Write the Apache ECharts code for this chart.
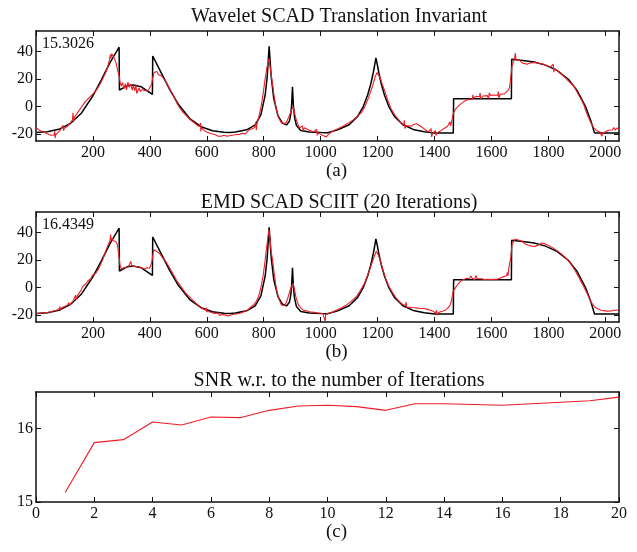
<!DOCTYPE html>
<html>
<head>
<meta charset="utf-8">
<script src="https://cdn.jsdelivr.net/npm/echarts@6/dist/echarts.min.js"></script>
<style>
html, body { margin: 0; padding: 0; background: #fff; }
#main { width: 637px; height: 552px; }
</style>
</head>
<body>
<div id="main"></div>
<script>
// original piece-regular signal (black), sample index / value
var sigX = [1, 40, 80, 120, 160, 200, 230, 260, 292, 293, 320, 341, 370, 409, 410, 440, 470, 500, 540, 580, 620, 660, 682,
    700, 740, 770, 790, 805, 812, 819, 826, 835, 850, 865, 880, 890, 895, 898, 901, 904, 908, 915, 930, 960, 1000, 1024,
    1060, 1100, 1130, 1150, 1165, 1175, 1180, 1185, 1190, 1194, 1199, 1204, 1209, 1214, 1224, 1239, 1259, 1289, 1329, 1364,
    1400, 1466, 1467, 1670, 1671, 1710, 1750, 1790, 1830, 1870, 1900, 1930, 1950, 1962, 2048];
var sigY = [-18.9, -18.3, -16.5, -12.4, -4.6, 7.9, 19.7, 32.0, 43.2, 12.1, 15.1, 15.8, 14.4, 8.9, 36.8, 24.6, 12.4, 1.7, -8.7, -14.6, -17.5, -18.7, -18.9,
    -18.4, -16.9, -13.2, -6.0, 8.3, 21.3, 43.8, 22.4, 6.1, -6.6, -11.9, -13.3, -10.7, -5.5, 1.4, 14.4, 1.4, -7.5, -13.8, -17.3, -18.5, -18.9, -19.0,
    -16.9, -13.2, -7.1, 0.2, 8.4, 15.7, 20.1, 25.0, 30.5, 35.4, 30.5, 25.0, 20.1, 15.7, 8.4, 0.2, -7.1, -13.2, -16.9, -18.2,
    -19.2, -19.2, 5.8, 5.8, 34.4, 33.6, 32.4, 30.2, 26.4, 19.9, 12.0, 0.2, -10.9, -19.2, -19.2];

// wavelet SCAD translation invariant estimate (red, panel a)
var waveTI = [[1,-15.4],[8,-16.5],[17,-17.8],[25,-18.5],[32,-19.6],[40,-19.8],[46,-20.2],[52,-20.8],[58,-21.3],[63,-20.6],[66,-18],[67,-23],[69,-20.5],
    [75,-19.5],[80,-18.2],[87,-16.6],[93,-16.9],[95,-13.5],[97,-17.5],[100,-15.5],[106,-14.8],[111,-14.2],[118,-12.5],[124,-11.8],[128,-9.5],[130,-4.5],
    [132,-11],[136,-7.3],[142,-5.6],[150,-3.3],[158,-0.8],[166,1.5],[174,3.8],[181,5.3],[190,7.2],[200,9.3],[210,11.4],[220,14.6],[228,17.5],[236,21],
    [245,24.8],[252,29],[258,34],[261,37.8],[263,35],[266,38.5],[269,37.4],[274,35.5],[281,32],[286,27],[292,22.3],[296,17],[300,15],[304,17.5],
    [309,13],[314,16.8],[318,12.2],[323,17.8],[328,14],[333,16.5],[338,12],[342,15.5],[347,11.5],[351,16],[354,9.5],[357,10.2],[362,13.5],[367,11],
    [372,12.5],[380,11.8],[386,12.4],[392,11.4],[398,13.2],[402,13.8],[406,16.3],[410,21],[415,24.8],[420,23.5],[425,25.5],[430,23.2],[433,23.6],
    [440,22.5],[450,19.9],[458,17.5],[466,14.5],[474,11.4],[482,8.5],[490,4.8],[497,1.7],[505,-0.8],[515,-3.8],[527,-6.4],[540,-9.2],[556,-11.7],
    [566,-13.5],[575,-14.6],[578,-12],[579,-18],[581,-15.4],[590,-17.3],[600,-18.4],[614,-19.5],[630,-20.5],[640,-21.6],[650,-21.5],[660,-20.8],
    [670,-21.5],[685,-21],[700,-20.5],[715,-20.2],[725,-19.4],[735,-19.8],[750,-16.6],[760,-16.2],[768,-15.2],[772,-11],[774,-17],[776,-13],[782,-8],
    [791,0.4],[797,8],[803,17.5],[810,27],[818,35],[823,28],[830,17.5],[837,7],[844,-2],[852,-8],[862,-11.7],[870,-12.3],[879,-11.7],[887,-8],
    [894,-4.4],[903,0],[908,-4.5],[914,-9.3],[920,-13],[926,-15.4],[932,-16],[936,-14],[938,-17.5],[943,-15.4],[950,-16.5],[958,-17],[967,-17.8],
    [975,-18.3],[982,-19.3],[986,-16.5],[988,-21],[990,-19],[998,-20],[1008,-21],[1014,-21.6],[1020,-22],[1026,-20.5],[1034,-19],[1043,-17.8],
    [1060,-16],[1078,-14.2],[1095,-12.2],[1113,-9.8],[1128,-7.3],[1143,-4.4],[1155,0],[1166,5.3],[1175,10.5],[1184,16.3],[1191,21.5],[1198,24.8],
    [1203,24],[1209,21.1],[1216,16.5],[1225,11.4],[1236,4.5],[1248,-2],[1260,-6],[1271,-8.8],[1283,-12],[1292,-13],[1294,-10],[1296,-16],[1300,-14],
    [1310,-14],[1318,-14.2],[1326,-13],[1336,-12.5],[1346,-13.5],[1359,-15.4],[1368,-17],[1378,-18.3],[1385,-19],[1388,-16],[1390,-22],[1393,-19.5],
    [1400,-20],[1403,-17.5],[1405,-21],[1409,-19],[1420,-17.8],[1432,-16.1],[1445,-14.5],[1452,-13.5],[1454,-11],[1456,-14],[1460,-11],[1465,-5.6],
    [1473,-2],[1482,0],[1490,1.6],[1502,3.5],[1514,4.8],[1525,5.6],[1533,5.2],[1535,8.5],[1537,6.5],[1548,7.5],[1558,7.2],[1560,10],[1562,5.5],
    [1570,7.7],[1585,8],[1590,6],[1592,10],[1596,8.2],[1610,8.5],[1622,8.3],[1624,11],[1626,6],[1631,9],[1645,9.3],[1652,10.5],[1657,11.4],[1662,13],
    [1666,17.5],[1672,29.6],[1678,33],[1682,36],[1684,39],[1686,34.5],[1692,35],[1701,33.3],[1710,31.5],[1715,32.5],[1725,30.9],[1735,31.8],
    [1748,32.1],[1760,31.8],[1772,31.2],[1783,30.9],[1795,29.8],[1808,28.8],[1815,28],[1817,31],[1819,25],[1822,27.7],[1835,25.5],[1853,22.3],
    [1870,18.8],[1889,15],[1905,9],[1918,4.1],[1925,1],[1928,-1],[1933,-4],[1941,-8.1],[1950,-12],[1959,-15.4],[1970,-17.5],[1980,-18.5],[1986,-18],
    [1988,-21.5],[1990,-19],[2000,-18.5],[2010,-17.2],[2017,-16.6],[2025,-17],[2030,-15.2],[2035,-17.2],[2041,-15.4],[2046,-16.5],[2048,-15.8]];

// EMD SCAD SCIIT estimate after 20 iterations (red, panel b)
var emdSciit = [[1,-18.8],[15,-18.6],[30,-18.3],[45,-17.9],[52,-17.6],[62,-17],[72,-16.5],[80,-15.8],[84,-13.8],[86,-16.5],[90,-14.7],[100,-13.8],
    [110,-12.8],[115,-11],[118,-13],[122,-11.5],[130,-9.8],[136,-8.8],[139,-5.5],[141,-9],[145,-6],[152,-3.8],[158,-2],[164,0.7],[170,1.8],[176,3],
    [182,4.8],[187,5.6],[193,6.5],[198,9],[204,8.7],[210,10.5],[218,13],[226,16.5],[234,20.2],[242,24.8],[251,30],[256,32.5],[260,34],[262,38.6],
    [264,34.5],[267,36],[270,34.2],[275,34.9],[280,33.5],[286,31.2],[290,25],[295,16.6],[300,13.5],[304,12.9],[310,14.6],[316,15.4],[322,14.8],
    [327,16.5],[333,19],[337,15.6],[342,16.8],[351,15.4],[358,16],[365,14.8],[374,14.1],[382,13.6],[390,14.5],[398,14.1],[403,16],[407,19],[411,24.5],
    [415,27.6],[422,26.8],[433,25.1],[445,21.6],[456,19],[468,14.8],[480,10.5],[494,5.2],[509,0.7],[525,-3.8],[544,-7.8],[565,-12],[585,-15.2],
    [595,-16.5],[598,-14.5],[600,-17.5],[610,-17.6],[626,-18.8],[640,-18.5],[645,-20.2],[655,-19.6],[667,-20],[675,-20.6],[682,-19.6],[690,-19.6],
    [702,-19.2],[715,-18.8],[730,-17.5],[745,-16],[756,-13.9],[765,-12.5],[772,-10.5],[779,-8],[785,-4.2],[792,2],[798,9],[803,16.6],[810,29],
    [818,42.2],[822,36],[826,26],[830,21.5],[837,10],[844,-0.5],[852,-7.5],[862,-12.7],[867,-13.8],[873,-13.2],[880,-10.5],[886,-6.5],[891,-3],
    [897,0.8],[903,3.2],[908,-1.5],[914,-7.8],[922,-12.5],[932,-15.2],[940,-16.5],[950,-16.8],[961,-17.6],[975,-18],[990,-18.5],[1008,-18.8],
    [1014,-19.5],[1016,-24.8],[1018,-19.4],[1025,-19.6],[1040,-17.9],[1055,-16.4],[1072,-14.8],[1090,-12.7],[1108,-9.8],[1125,-6.6],[1140,-2],
    [1154,3.2],[1166,9.5],[1178,16.6],[1187,22],[1195,26.4],[1202,24],[1209,20.2],[1220,12],[1230,5.6],[1242,0],[1254,-4.2],[1265,-7.5],[1277,-10.3],
    [1290,-12.5],[1298,-12.8],[1300,-10.5],[1302,-14.2],[1315,-14.3],[1325,-14.5],[1336,-14.7],[1350,-15.2],[1365,-15.2],[1375,-15.8],[1385,-16.4],
    [1395,-17.2],[1403,-18.5],[1407,-16.5],[1409,-20.2],[1412,-18.5],[1420,-17.6],[1430,-17],[1438,-16.4],[1448,-14.5],[1455,-12.7],[1460,-9],
    [1465,-2.9],[1470,-1.5],[1476,0.7],[1483,2.8],[1490,4.4],[1500,5.8],[1514,6.8],[1522,6.4],[1528,8.5],[1532,6.8],[1537,8],[1541,5.8],[1545,8.8],
    [1550,6.5],[1555,6.3],[1565,6.5],[1575,5.9],[1584,6.1],[1600,5.8],[1610,6],[1619,6.1],[1630,6.8],[1643,8],[1652,8.5],[1656,11],[1658,8.5],
    [1660,12.9],[1664,13.5],[1668,22],[1672,31.2],[1678,33.5],[1683,35.3],[1690,35.6],[1697,34.5],[1707,33.7],[1718,31.8],[1731,30.8],[1742,30.2],
    [1754,30],[1765,31],[1777,32.5],[1785,32],[1796,31.2],[1807,30],[1825,27.6],[1842,25.1],[1860,21.8],[1877,17.8],[1892,13],[1906,8],[1921,2],
    [1936,-4.2],[1945,-8.5],[1953,-11.5],[1962,-14],[1971,-15.2],[1985,-16.4],[2006,-17.1],[2020,-17],[2030,-16.5],[2041,-16.4],[2048,-15.8]];

// SNR vs number of iterations (panel c)
var iterations = [1, 2, 3, 4, 5, 6, 7, 8, 9, 10, 11, 12, 13, 14, 15, 16, 17, 18, 19, 20];
var snr = [15.13, 15.81, 15.85, 16.09, 16.05, 16.16, 16.15, 16.25, 16.31, 16.32, 16.30, 16.25, 16.34, 16.34, 16.33, 16.32, 16.34, 16.36, 16.38, 16.43];

var panelTitles = ['Wavelet SCAD Translation Invariant', 'EMD SCAD SCIIT (20 Iterations)', 'SNR w.r. to the number of Iterations'];
var panelNames = ['(a)', '(b)', '(c)'];
var snrLabels = ['15.3026', '16.4349'];
var sigTicks = [-20, 0, 20, 40];
var snrTicks = [15, 16];

var myChart = echarts.init(document.getElementById('main'));

var font = 'Liberation Serif';
var gridTops = [31, 212, 392];
var titleTops = [2, 188, 366];

var signalData = sigX.map(function (x, i) { return [x, sigY[i]]; });
var snrData = iterations.map(function (x, i) { return [x, snr[i]]; });

var axisLine = { show: true, onZero: false, lineStyle: { color: '#111', width: 1.5 } };
var axisTick = { show: true, inside: true, length: 5, lineStyle: { color: '#111', width: 1 } };
var plain = function (v) { return String(v); };

var grids = [], xAxes = [], yAxes = [], titles = [];
for (var i = 0; i < 3; i++) {
    var isSnr = i === 2;
    grids.push({ left: 36, right: 18, top: gridTops[i], height: 110 });
    titles.push({
        text: panelTitles[i],
        left: 334,
        textAlign: 'center',
        top: titleTops[i],
        textStyle: { fontFamily: font, fontSize: 20, fontWeight: 'normal', color: '#111' }
    });
    var xr = isSnr ? { min: 0, max: 20, interval: 2 } : { min: 0, max: 2048, interval: 200 };
    xAxes.push({
        type: 'value', gridIndex: i, position: 'bottom',
        min: xr.min, max: xr.max, interval: xr.interval,
        name: panelNames[i], nameLocation: 'middle', nameGap: 19,
        nameTextStyle: { fontFamily: font, fontSize: 19, color: '#111', padding: [0, 0, 0, 18] },
        axisLine: axisLine, axisTick: axisTick,
        axisLabel: { fontFamily: font, fontSize: 16, color: '#111', margin: 4, formatter: plain,
                     showMinLabel: isSnr, showMaxLabel: isSnr },
        splitLine: { show: false }
    });
    xAxes.push({
        type: 'value', gridIndex: i, position: 'top',
        min: xr.min, max: xr.max, interval: xr.interval,
        axisLine: axisLine, axisTick: axisTick, axisLabel: { show: false }, splitLine: { show: false }
    });
    var yr = isSnr ? { min: 15, max: 16.5, ticks: snrTicks } : { min: -25, max: 55, ticks: sigTicks };
    yAxes.push({
        type: 'value', gridIndex: i, position: 'left', min: yr.min, max: yr.max,
        axisLine: axisLine,
        axisTick: { show: true, inside: true, length: 5, lineStyle: { color: '#111', width: 1 }, customValues: yr.ticks },
        axisLabel: { fontFamily: font, fontSize: 16, color: '#111', margin: 3, formatter: plain, customValues: yr.ticks },
        splitLine: { show: false }
    });
    yAxes.push({
        type: 'value', gridIndex: i, position: 'right', min: yr.min, max: yr.max,
        axisLine: axisLine,
        axisTick: { show: true, inside: true, length: 5, lineStyle: { color: '#111', width: 1 }, customValues: yr.ticks },
        axisLabel: { show: false }, splitLine: { show: false }
    });
}

var red = '#ee1c25';
var option = {
    backgroundColor: '#fff',
    animation: false,
    title: titles,
    grid: grids,
    xAxis: xAxes,
    yAxis: yAxes,
    graphic: [
        { type: 'text', left: 42, top: 36, style: { text: snrLabels[0], font: '16px "Liberation Serif"', fill: '#111' } },
        { type: 'text', left: 42, top: 217, style: { text: snrLabels[1], font: '16px "Liberation Serif"', fill: '#111' } }
    ],
    series: [
        { type: 'line', name: 'original a', xAxisIndex: 0, yAxisIndex: 0, data: signalData, showSymbol: false, symbol: 'none',
          lineStyle: { color: '#000', width: 1.5 } },
        { type: 'line', name: 'wavelet', xAxisIndex: 0, yAxisIndex: 0, data: waveTI, showSymbol: false, symbol: 'none',
          lineStyle: { color: red, width: 1.1 } },
        { type: 'line', name: 'original b', xAxisIndex: 2, yAxisIndex: 2, data: signalData, showSymbol: false, symbol: 'none',
          lineStyle: { color: '#000', width: 1.5 } },
        { type: 'line', name: 'emd', xAxisIndex: 2, yAxisIndex: 2, data: emdSciit, showSymbol: false, symbol: 'none',
          lineStyle: { color: red, width: 1.1 } },
        { type: 'line', name: 'snr', xAxisIndex: 4, yAxisIndex: 4, data: snrData, showSymbol: false, symbol: 'none',
          lineStyle: { color: red, width: 1.1 } }
    ]
};

myChart.setOption(option);
</script>
</body>
</html>
